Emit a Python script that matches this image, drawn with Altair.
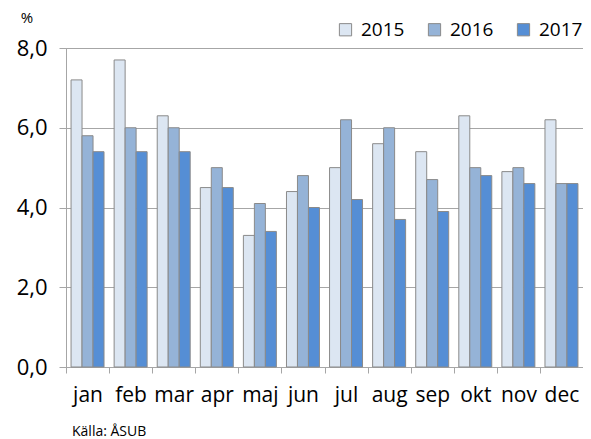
import altair as alt
import pandas as pd

months = ["jan", "feb", "mar", "apr", "maj", "jun", "jul", "aug", "sep", "okt", "nov", "dec"]
years = ["2015", "2016", "2017"]
v2015 = [7.2, 7.7, 6.3, 4.5, 3.3, 4.4, 5.0, 5.6, 5.4, 6.3, 4.9, 6.2]
v2016 = [5.8, 6.0, 6.0, 5.0, 4.1, 4.8, 6.2, 6.0, 4.7, 5.0, 5.0, 4.6]
v2017 = [5.4, 5.4, 5.4, 4.5, 3.4, 4.0, 4.2, 3.7, 3.9, 4.8, 4.6, 4.6]
colors = ["#dce6f2", "#95b3d7", "#558ed5"]
y_ticks = [0, 2, 4, 6, 8]
unit_label = "%"
source_label = "Källa: ÅSUB"

rows = []
for yr, vals in zip(years, [v2015, v2016, v2017]):
    for m, v in zip(months, vals):
        rows.append({"month": m, "year": yr, "value": v})
df = pd.DataFrame(rows)

FONT = "Open Sans"
GRID = "#a6a6a6"

bars = alt.Chart(df).mark_bar(stroke="#8a8a8a", strokeWidth=1).encode(
    x=alt.X("month:N", sort=months,
            scale=alt.Scale(paddingInner=0, paddingOuter=0),
            axis=alt.Axis(title=None, labelAngle=0, tickBand="extent", tickSize=6,
                          tickColor=GRID, domainColor=GRID, labelFontSize=21,
                          labelFont=FONT, labelColor="#000000", labelPadding=11)),
    xOffset=alt.XOffset("year:N", sort=years,
                        scale=alt.Scale(paddingOuter=0.46, paddingInner=0)),
    y=alt.Y("value:Q", scale=alt.Scale(domain=[0, 8], nice=False),
            axis=alt.Axis(title=None, values=y_ticks, grid=True, gridColor=GRID,
                          domainColor=GRID, tickColor=GRID, tickSize=7,
                          labelExpr="replace(format(datum.value, '.1f'), '.', ',')",
                          labelFontSize=22, labelFont=FONT, labelColor="#000000",
                          labelPadding=12)),
    color=alt.Color("year:N", scale=alt.Scale(domain=years, range=colors),
                    legend=alt.Legend(title=None, orient="none", legendX=270, legendY=-28,
                                      direction="horizontal", symbolType="square",
                                      symbolSize=150, symbolStrokeColor="#8a8a8a",
                                      symbolStrokeWidth=1, labelFontSize=19,
                                      labelFont=FONT, labelColor="#000000",
                                      labelOffset=6, columnPadding=20)),
)

unit = alt.Chart(pd.DataFrame({"t": [unit_label]})).mark_text(
    font=FONT, fontSize=15, align="center", baseline="middle", color="#000000"
).encode(x=alt.value(-39), y=alt.value(-30), text="t:N")

source = alt.Chart(pd.DataFrame({"t": [source_label]})).mark_text(
    font=FONT, fontSize=14, align="left", baseline="middle", color="#000000"
).encode(x=alt.value(6), y=alt.value(384), text="t:N")

chart = alt.layer(bars, unit, source).properties(
    width=517, height=319,
    padding={"left": 58, "top": 40, "right": 0, "bottom": 72},
    autosize=alt.AutoSizeParams(type="none"),
).configure_view(stroke=GRID)

chart.save("out.html", embed_options={"renderer": "svg", "actions": False})
